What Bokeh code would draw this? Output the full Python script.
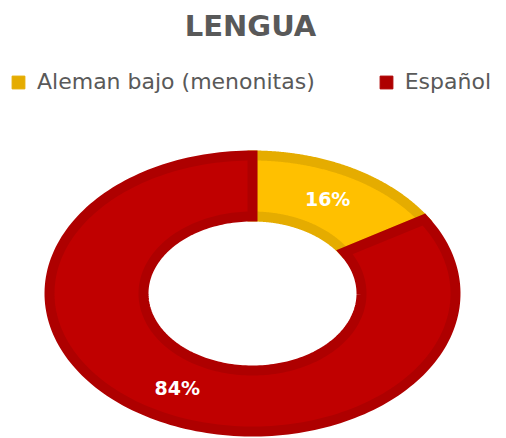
import numpy as np
from bokeh.plotting import figure
from bokeh.models import Range1d, ColumnDataSource, Legend, LegendItem
from bokeh.core.properties import value
from bokeh.embed import file_html
from bokeh.resources import INLINE

# ---- data ----
title_text = "LENGUA"
categories = ["Aleman bajo (menonitas)", "Español"]
shares = [16, 84]
labels = ["16%", "84%"]
fill_colors = ["#FFC000", "#C00000"]
border_colors = ["#E5AC00", "#AE0000"]

# ---- layout ----
W, H = 506, 438
p = figure(width=W, height=H, output_backend="svg", toolbar_location=None,
           x_range=Range1d(0, W), y_range=Range1d(H, 0), min_border=0,
           x_axis_type=None, y_axis_type=None)
p.grid.visible = False
p.outline_line_color = None
p.background_fill_color = "white"
p.border_fill_color = "white"

cx, cy = 252, 293
rx_out, ry_out = 203, 138
rx_in, ry_in = 109, 77

vals = np.array(shares, dtype=float)
fr = vals / vals.sum()
ends = np.cumsum(fr) * 2 * np.pi
starts = ends - fr * 2 * np.pi

xs, ys, lx, ly = [], [], [], []
for a0, a1 in zip(starts, ends):
    t = np.linspace(a0, a1, 200)
    ox = cx + rx_out * np.sin(t)
    oy = cy - ry_out * np.cos(t)
    ix = cx + rx_in * np.sin(t[::-1])
    iy = cy - ry_in * np.cos(t[::-1])
    xs.append(np.concatenate([ox, ix]).tolist())
    ys.append(np.concatenate([oy, iy]).tolist())
    m = 0.5 * (a0 + a1)
    lx.append(cx + 0.5 * (rx_out + rx_in) * np.sin(m))
    ly.append(cy - 0.5 * (ry_out + ry_in) * np.cos(m))

src = ColumnDataSource(dict(xs=xs, ys=ys, fill=fill_colors, line=border_colors))
p.patches(xs="xs", ys="ys", fill_color="fill", line_color="line",
          line_width=10, line_join="miter", source=src)

lab_src = ColumnDataSource(dict(x=lx, y=ly, t=labels))
p.text(x="x", y="y", text="t", source=lab_src, text_color="white",
       text_font=value("DejaVu Sans"), text_font_style="bold",
       text_font_size="19px", text_align="center", text_baseline="middle")

# title
p.text(x=[250], y=[25], text=[title_text], text_color="#595959",
       text_font=value("DejaVu Sans"), text_font_style="bold",
       text_font_size="29px", text_align="center", text_baseline="middle")

# legend
items = []
for cat, fc, bc in zip(categories, fill_colors, border_colors):
    r = p.quad(left=[np.nan], right=[np.nan], top=[np.nan], bottom=[np.nan],
               fill_color=bc, line_color=bc, line_width=1)
    items.append(LegendItem(label=cat, renderers=[r]))

legend = Legend(items=items, orientation="horizontal", location=(10, 344),
                glyph_width=16, glyph_height=16, label_standoff=11,
                spacing=63, padding=0, margin=0,
                border_line_alpha=0, background_fill_alpha=0,
                label_text_font="DejaVu Sans", label_text_font_size="22px",
                label_text_color="#595959")
p.add_layout(legend)

open("out.html", "w").write(file_html(p, INLINE))
